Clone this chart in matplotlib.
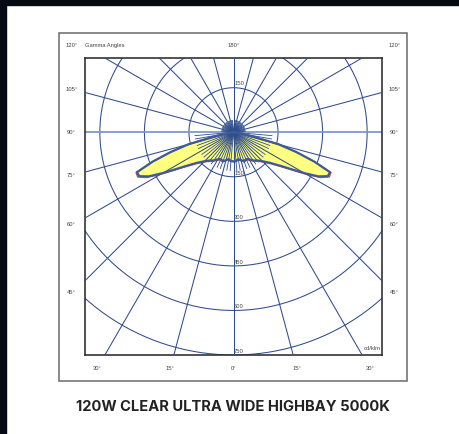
import numpy as np
import matplotlib
matplotlib.use('Agg')
import matplotlib.pyplot as plt
from matplotlib.patches import Rectangle

# luminous intensity, cd/klm, vs gamma angle (symmetric batwing)
gamma = [0, 5, 10, 15, 20, 25, 30, 35, 40, 45, 50, 55, 58, 60, 62.5, 65, 67.5, 70, 72.5, 75, 77.5, 80, 85, 90]
c0_c180 = [98, 97, 92, 97, 104, 100, 105, 116, 124, 138, 160, 200, 240, 275, 322, 350, 352, 290, 222, 158, 70, 28, 8, 0]
c90_c270 = [99, 99, 95, 99, 106, 103, 108, 119, 127, 142, 165, 206, 246, 282, 330, 356, 355, 292, 223, 159, 70, 28, 8, 0]

rings = [150, 300, 450, 600, 750]
side_labels = [45, 60, 75, 90, 105]
bottom_labels = [30, 15, 0, 15, 30]
title = '120W CLEAR ULTRA WIDE HIGHBAY 5000K'

grid_col = '#2f4c8c'
fig = plt.figure(figsize=(4.6, 4.34), dpi=100)
fig.patch.set_facecolor('white')
fig.patches.append(Rectangle((0, 1 - 5 / 434), 1, 5 / 434, transform=fig.transFigure, color='#050a14', zorder=0))
fig.patches.append(Rectangle((0, 0), 6 / 460, 1, transform=fig.transFigure, color='#050a14', zorder=0))
fig.patches.append(Rectangle((59 / 460, 53 / 434), 348 / 460, 348 / 434, transform=fig.transFigure,
                             fill=False, edgecolor='#6a6a6a', lw=1.1))

ax = fig.add_axes([85 / 460, 79 / 434, 297 / 460, 297 / 434])
ax.set_xlim(-500, 500)
ax.set_ylim(-750, 250)
ax.set_xticks([])
ax.set_yticks([])
for s in ax.spines.values():
    s.set_color('#333333')
    s.set_linewidth(1.2)

# grid: rings and radial lines
t = np.linspace(0, 2 * np.pi, 500)
for r in rings:
    ax.plot(r * np.cos(t), r * np.sin(t), color=grid_col, lw=0.75, zorder=1)
for a in range(0, 360, 15):
    ar = np.radians(a)
    if a in (90, 270):
        ax.plot([0, 1500 * np.sin(ar)], [0, -1500 * np.cos(ar)], color='#7f98c8', lw=1.3, zorder=1)
    else:
        ax.plot([0, 1500 * np.sin(ar)], [0, -1500 * np.cos(ar)], color=grid_col, lw=0.75, zorder=3)
for a in range(0, 360, 5):
    if a % 15 == 0:
        continue
    ar = np.radians(a)
    reach = 130 if (a < 90 or a > 270) else 40
    ax.plot([0, reach * np.sin(ar)], [0, -reach * np.cos(ar)], color=grid_col, lw=0.6, zorder=3)

# intensity curves
g = np.radians(np.array(gamma))
full_g = np.concatenate([-g[::-1], g[1:]])
b = np.array(c0_c180)
rr = np.array(c90_c270)
full_b = np.concatenate([b[::-1], b[1:]])
full_r = np.concatenate([rr[::-1], rr[1:]])
xb, yb = full_b * np.sin(full_g), -full_b * np.cos(full_g)
xr, yr = full_r * np.sin(full_g), -full_r * np.cos(full_g)
ax.fill(xb, yb, color='#ffff80', zorder=2)
ax.plot(xr, yr, color='#e8452f', lw=1.0, zorder=2)
ax.plot(xb, yb, color='#3d5a9a', lw=1.6, zorder=4)

# labels
small = dict(fontsize=4.2, color='#444444', family='Liberation Sans')
ax.text(-500, 291, 'Gamma Angles', ha='left', va='center', clip_on=False, **small)
ax.text(-545, 291, '120°', ha='center', va='center', clip_on=False, **small)
ax.text(542, 291, '120°', ha='center', va='center', clip_on=False, **small)
ax.text(0, 291, '180°', ha='center', va='center', clip_on=False, **small)
for a in side_labels:
    yy = -500 / np.tan(np.radians(a)) * 1.08 if a != 90 else 0
    ax.text(-545, yy, '%d°' % a, ha='center', va='center', clip_on=False, **small)
    ax.text(542, yy, '%d°' % a, ha='center', va='center', clip_on=False, **small)
for i, a in enumerate(bottom_labels):
    sign = -1 if i < 2 else 1
    xx = sign * 750 * np.tan(np.radians(a)) * 1.06
    ax.text(xx, -796, '%d°' % a, ha='center', va='center', clip_on=False, **small)
ax.text(2, rings[0] + 13, '%d' % rings[0], ha='left', va='center', zorder=5, **small)
for r in rings:
    ax.text(2, -r + 12, '%d' % r, ha='left', va='center', zorder=5, **small)
ax.text(494, -728, 'cd/klm', ha='right', va='center', zorder=5, **small)

fig.text(233 / 460, 1 - 407 / 434, title, ha='center', va='center', fontsize=10.6,
         fontweight='bold', family='Inter', color='#222222')

fig.savefig('out.png', dpi=100)
